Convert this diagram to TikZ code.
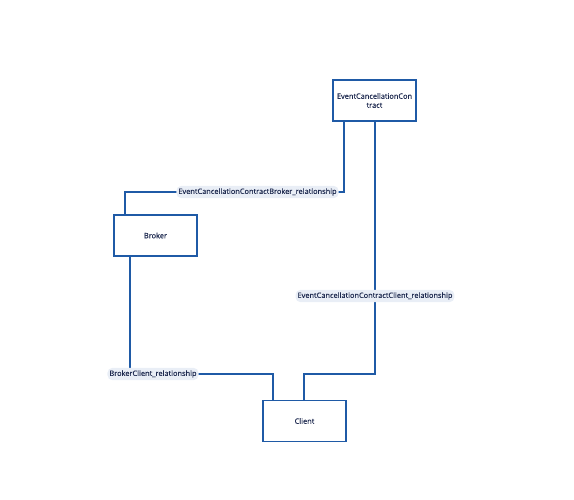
\documentclass[tikz,border=0pt]{standalone}
\usepackage{fontspec}
\setmainfont{Open Sans}[FakeBold=0.25]
\definecolor{edge}{HTML}{1F5AA6}
\definecolor{txt}{HTML}{1E2A50}
\definecolor{lblbg}{HTML}{E9EEF6}
\tikzset{
  entity/.style={draw=edge, line width=1.3pt, fill=white, minimum width=83pt, minimum height=41pt, inner sep=0pt, font=\fontsize{7.4}{9}\selectfont, text=txt, align=center},
  rel/.style={draw=edge, line width=1.6pt},
  lbl/.style={fill=lblbg, rounded corners=5pt, inner xsep=2pt, inner ysep=2.5pt, font=\fontsize{7.4}{8}\selectfont, text=txt}
}
\begin{document}
\begin{tikzpicture}[x=1pt,y=-1pt]
\useasboundingbox (0,0) rectangle (574,500);
\node[entity] (ecc) at (374.5,100.5) {EventCancellationCon\\tract};
\node[entity] (broker) at (155.5,235.5) {Broker};
\node[entity] (client) at (304.5,421) {Client};
\coordinate (a1) at (344,192);
\coordinate (a2) at (125,192);
\coordinate (b1) at (375,374);
\coordinate (b2) at (304,374);
\coordinate (c1) at (130,374);
\coordinate (c2) at (273,374);
\draw[rel] (ecc.south -| a1) -- (a1) -- (a2) -- (a2 |- broker.north);
\draw[rel] (ecc.south -| b1) -- (b1) -- (b2) -- (b2 |- client.north);
\draw[rel] (broker.south -| c1) -- (c1) -- (c2) -- (c2 |- client.north);
\node[lbl] (l1) at (257.5,192) {EventCancellationContractBroker\_relationship};
\node[lbl] (l2) at (375,296) {EventCancellationContractClient\_relationship};
\node[lbl] (l3) at (153,374) {BrokerClient\_relationship};
\end{tikzpicture}
\end{document}
